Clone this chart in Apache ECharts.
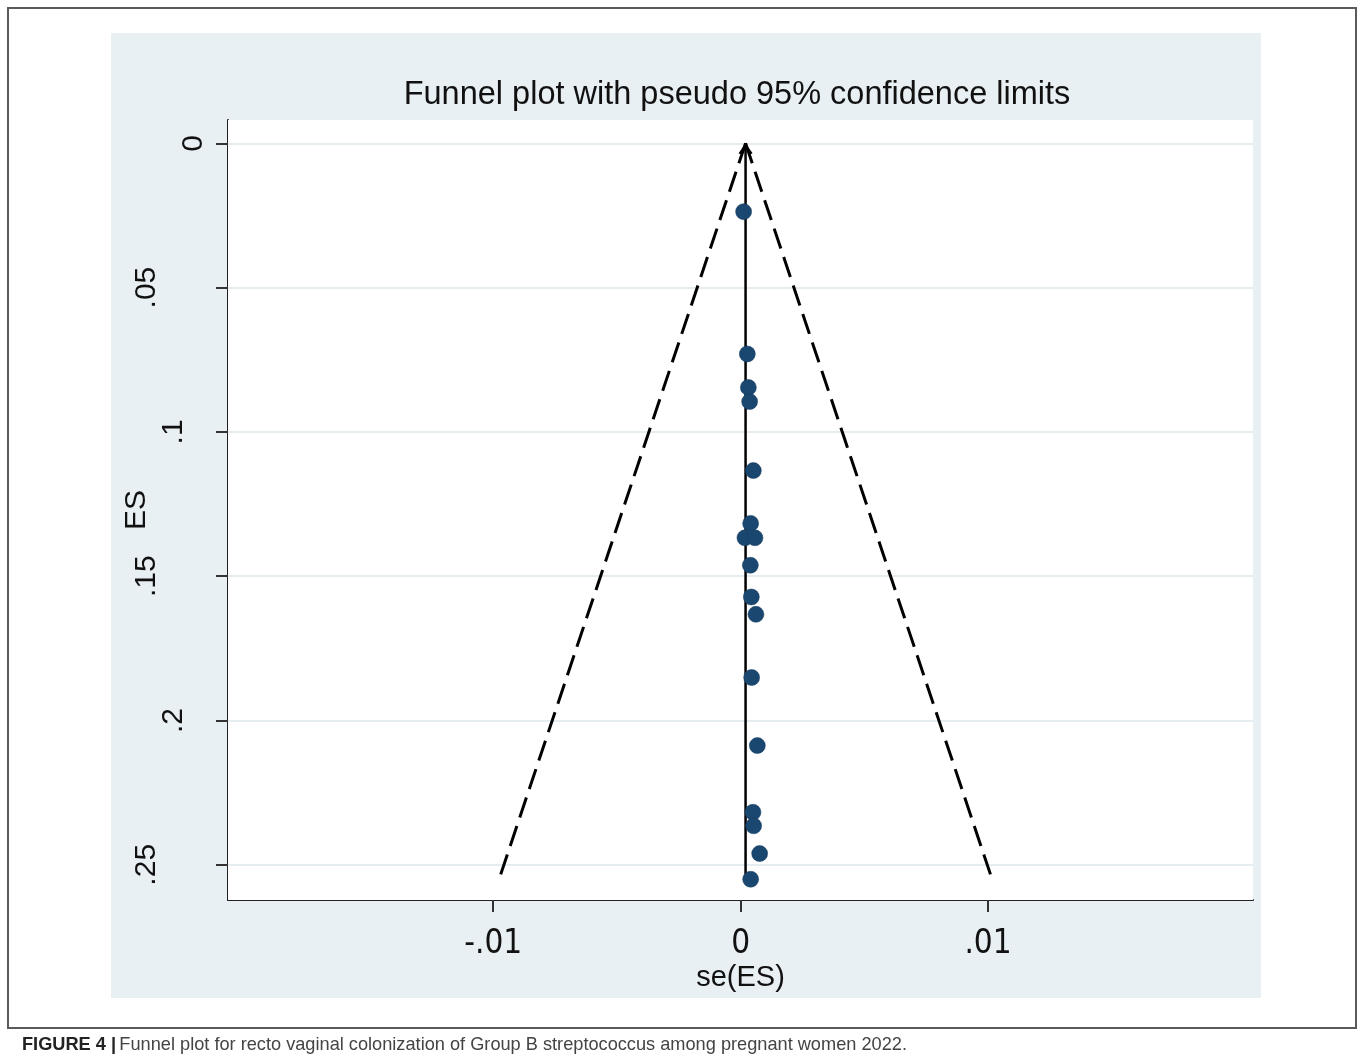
<!DOCTYPE html>
<html>
<head>
<meta charset="utf-8">
<script src="https://cdn.jsdelivr.net/npm/echarts@6/dist/echarts.min.js"></script>
<style>
html,body{margin:0;padding:0;background:#fff;}
#chart{width:1360px;height:1064px;}
</style>
</head>
<body>
<div id="chart"></div>
<script>
// ---- data ----
var seES = [0.000121,0.000271,0.000312,0.000364,0.000514,0.000405,0.000174,0.000579,0.000393,0.000433,0.000619,0.000445,0.000676,0.000498,0.000526,0.000769,0.000405];
var esValues = [0.0237,0.0730,0.0846,0.0895,0.1134,0.1317,0.1367,0.1367,0.1462,0.1572,0.1632,0.1851,0.2087,0.2318,0.2365,0.2461,0.2550];
var pooled = 0.0002;
var funnelLeft = [[0.0002,0],[-0.00976,0.2549]];
var funnelRight = [[0.0002,0],[0.01016,0.2549]];
var pooledLine = [[0.0002,0.2540],[0.0002,0]];
var xTickValues = [-0.01,0,0.01];
var xTickLabels = ['-.01','0','.01'];
var yTickValues = [0,0.05,0.1,0.15,0.2,0.25];
var yTickLabels = ['0','.05','.1','.15','.2','.25'];
var titleText = 'Funnel plot with pseudo 95% confidence limits';
var xName = 'se(ES)';
var yName = 'ES';
var captionBold = 'FIGURE 4 |';
var captionText = 'Funnel plot for recto vaginal colonization of Group B streptococcus among pregnant women 2022.';

function lookup(vals, labels, v){
  for (var i=0;i<vals.length;i++){ if (Math.abs(vals[i]-v)<1e-9) return labels[i]; }
  return '';
}

var chart = echarts.init(document.getElementById('chart'), null, {renderer:'canvas'});
var points = seES.map(function(x,i){ return [x, esValues[i]]; });
var yLabelKey = {'0':'a','.1':'b','.2':'b','.05':'c','.15':'c','.25':'c'};
var arrowPath = 'path://M0,10 L7,0 L14,10 L12,11 L7,3.6 L2,11 Z';
var sans = '"Liberation Sans", Arial, sans-serif';

var option = {
  animation:false,
  grid:{left:228, right:107, top:120, bottom:164, show:true, backgroundColor:'#ffffff', borderWidth:0, z:1},
  graphic:[
    {type:'rect', z:-20, shape:{x:8,y:8,width:1348,height:1020}, style:{fill:'#ffffff', stroke:'#5a5a5a', lineWidth:2}},
    {type:'rect', z:-10, shape:{x:111,y:33,width:1150,height:965}, style:{fill:'#e9f0f3'}},
    {type:'text', z:10, x:737, y:95, style:{text:titleText, fill:'#111', font:'32.5px "Liberation Sans", Arial, sans-serif', align:'center', verticalAlign:'middle'}},
    {type:'text', z:10, x:22, y:1045, style:{
      text:'{b|'+captionBold+'} {n|'+captionText+'}',
      verticalAlign:'middle', align:'left',
      rich:{
        b:{fontFamily:sans, fontWeight:'bold', fontSize:18.2, fill:'#222'},
        n:{fontFamily:sans, fontSize:18.2, fill:'#444'}
      }
    }}
  ],
  xAxis:{
    type:'value', min:-0.02072, max:0.02071,
    name:xName, nameLocation:'middle', nameGap:63, nameMoveOverlap:false,
    nameTextStyle:{fontSize:29, fontFamily:sans, color:'#111'},
    axisLine:{show:true, onZero:false, lineStyle:{color:'#222', width:2}},
    axisTick:{show:true, customValues:xTickValues, length:12, lineStyle:{color:'#333', width:2}},
    axisLabel:{show:true, customValues:xTickValues, margin:28,
      formatter:function(v){ return lookup(xTickValues,xTickLabels,v); },
      fontSize:33, fontFamily:'"Liberation Sans Narrow", "DejaVu Sans Condensed", "Liberation Sans", sans-serif', color:'#111'},
    splitLine:{show:false}
  },
  yAxis:{
    type:'value', inverse:true, min:-0.00807, max:0.2622,
    name:yName, nameLocation:'middle', nameGap:76, nameRotate:90, nameMoveOverlap:false,
    nameTextStyle:{fontSize:30, fontFamily:sans, color:'#111'},
    axisLine:{show:true, onZero:false, lineStyle:{color:'#222', width:2}},
    axisTick:{show:true, customValues:yTickValues, length:12, lineStyle:{color:'#333', width:2}},
    axisLabel:{show:true, customValues:yTickValues, rotate:90, margin:19,
      formatter:function(v){ var t = lookup(yTickValues,yTickLabels,v); return '{'+yLabelKey[t]+'|'+t+'}'; },
      rich:{
        a:{fontSize:30, fontFamily:sans, color:'#111', padding:[0,0,0,0]},
        b:{fontSize:30, fontFamily:sans, color:'#111', padding:[0,0,20,0]},
        c:{fontSize:30, fontFamily:sans, color:'#111', padding:[0,0,47,0]}
      }
    },
    splitLine:{show:false}
  },
  series:[
    {
      type:'line', name:'funnelLeft', data:funnelLeft, symbol:'none', silent:true, z:3,
      lineStyle:{color:'#000', width:3, type:[21,9]},
      markLine:{
        silent:true, symbol:['none','none'], z:2, animation:false,
        label:{show:false},
        lineStyle:{color:'#e6edf1', width:2, type:'solid'},
        data: yTickValues.map(function(v){ return {yAxis:v}; })
      }
    },
    {type:'line', name:'funnelRight', data:funnelRight, symbol:'none', silent:true, z:3,
      lineStyle:{color:'#000', width:3, type:[21,9]}},
    {type:'line', name:'pooled', z:4, silent:true, showSymbol:true,
      data:[
        {value:pooledLine[0], symbol:'none'},
        {value:pooledLine[1], symbol:arrowPath, symbolSize:[14,11], symbolOffset:[0,5.5]}
      ],
      itemStyle:{color:'#000'},
      lineStyle:{color:'#000', width:2.5, type:'solid'}},
    {type:'scatter', name:'studies', data:points, symbol:'circle', symbolSize:16, z:5,
      itemStyle:{color:'#1a476f', borderColor:'#163d60', borderWidth:0.5, opacity:1}}
  ]
};
chart.setOption(option);
</script>
</body>
</html>
